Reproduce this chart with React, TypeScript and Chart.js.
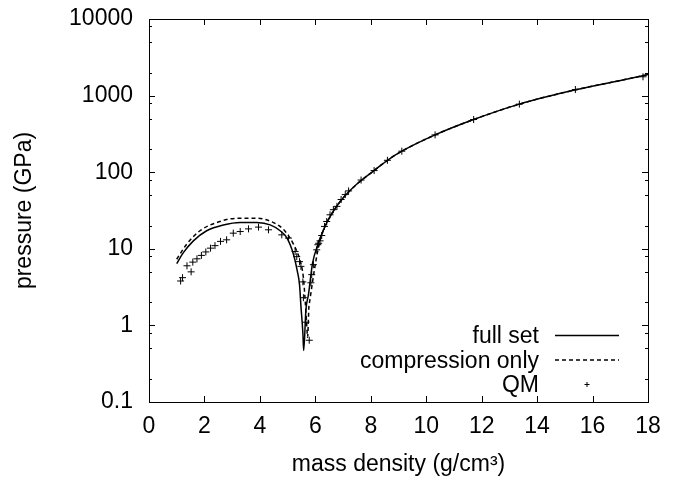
import React, { useEffect, useRef } from "react";
import { Chart, registerables } from "chart.js";

Chart.register(...registerables);

// ---- data ----
const fullSetX = [1.0, 1.24, 1.6, 2.08, 2.68, 3.29, 3.89, 4.37, 4.73, 4.97, 5.21, 5.35, 5.43, 5.48, 5.55, 5.58, 5.66, 5.75, 5.9, 6.1, 6.3, 6.6, 7.0, 7.5, 8.12, 8.6, 9.12, 10.32, 11.71, 13.36, 15.39, 17.3, 18.0];
const fullSetY = [6.4, 8.9, 12.7, 17.2, 20.5, 22.1, 22.0, 20.5, 17.2, 14.0, 8.5, 5.1, 3.4, 1.8, 0.8, 0.47, 1.6, 2.5, 6.5, 11.5, 18, 29, 46, 70, 105, 143, 188, 307, 487, 774, 1190, 1660, 1880];

const compX = [1.0, 1.36, 1.84, 2.44, 3.16, 3.89, 4.49, 4.91, 5.21, 5.45, 5.57, 5.63, 5.69, 5.72, 5.77, 5.79, 5.99, 6.15, 6.35, 6.6, 7.0, 7.5, 8.12, 8.6, 9.12, 10.32, 11.71, 13.36, 15.39, 17.3, 18.0];
const compY = [7.3, 11.5, 17.2, 22.0, 25.0, 25.0, 22.0, 17.0, 11.5, 7.0, 4.2, 2.2, 1.0, 0.7, 1.8, 2.0, 6.0, 12.0, 19.5, 29, 46, 70, 105, 143, 188, 307, 487, 774, 1190, 1660, 1880];

const qmX = [1.14, 1.21, 1.37, 1.52, 1.58, 1.73, 1.89, 2.05, 2.22, 2.38, 2.58, 2.8, 3.04, 3.29, 3.59, 3.95, 4.31, 4.79, 5.03, 5.27, 5.33, 5.43, 5.48, 5.55, 5.57, 5.66, 5.78, 5.84, 5.87, 5.93, 6.05, 6.09, 6.12, 6.17, 6.23, 6.33, 6.41, 6.53, 6.65, 6.78, 6.93, 7.08, 7.2, 7.65, 8.12, 8.6, 9.12, 10.32, 11.71, 13.36, 15.38, 17.82];
const qmY = [3.8, 4.2, 6.0, 5.0, 6.7, 7.4, 8.2, 9.1, 10.2, 11.0, 12.5, 13.1, 16.0, 16.8, 18.2, 19.2, 17.7, 15.2, 13.8, 9.2, 7.9, 6.8, 5.9, 3.7, 2.3, 1.1, 0.64, 3.6, 4.6, 6.2, 9.7, 11.3, 11.8, 12.7, 14.9, 19.6, 22.7, 27.8, 32.4, 35.8, 44, 51, 57, 79, 105, 143, 188, 307, 487, 774, 1200, 1760];

const xTicks = [0, 2, 4, 6, 8, 10, 12, 14, 16, 18];
const yMajorTicks = [0.1, 1, 10, 100, 1000, 10000];
const yMinorMultipliers = [2, 5, 8];

const seriesLabels = ["full set", "compression only", "QM"];
const xTitle = "mass density (g/cm³)";
const yTitle = "pressure (GPa)";

const FONT = "'Liberation Sans', Arial, Helvetica, sans-serif";
const FS = 23;

const toPoints = (xs: number[], ys: number[]) => xs.map((x, i) => ({ x, y: ys[i] }));

const framePlugin = {
  id: "gnuplotFrame",
  afterDatasetsDraw(chart: any) {
    const { ctx, chartArea } = chart;
    const { left, right, top, bottom } = chartArea;
    const xs = chart.scales.x;
    const ys = chart.scales.y;
    ctx.save();
    ctx.strokeStyle = "#000";
    ctx.lineWidth = 1;
    ctx.setLineDash([]);
    ctx.beginPath();
    const tick = (py: number, len: number) => {
      const y = Math.round(py) + 0.5;
      ctx.moveTo(left, y);
      ctx.lineTo(left + len, y);
      ctx.moveTo(right, y);
      ctx.lineTo(right - len, y);
    };
    yMajorTicks.forEach((v, i) => {
      tick(ys.getPixelForValue(v), 6);
      if (i < yMajorTicks.length - 1) {
        yMinorMultipliers.forEach((m) => tick(ys.getPixelForValue(v * m), 3));
      }
    });
    xTicks.forEach((v) => {
      const x = Math.round(xs.getPixelForValue(v)) + 0.5;
      ctx.moveTo(x, bottom);
      ctx.lineTo(x, bottom - 6);
      ctx.moveTo(x, top);
      ctx.lineTo(x, top + 6);
    });
    ctx.stroke();
    ctx.strokeRect(Math.round(left) + 0.5, Math.round(top) + 0.5, Math.round(right - left), Math.round(bottom - top));

    // legend (gnuplot style: text right-aligned, sample to the right)
    ctx.font = `${FS}px ${FONT}`;
    ctx.fillStyle = "#000";
    ctx.textAlign = "right";
    ctx.textBaseline = "alphabetic";
    const textRight = right - 109;
    const sx0 = right - 93;
    const sx1 = right - 29;
    const rows = [bottom - 59, bottom - 34.5, bottom - 10];
    chart.data.datasets.forEach((ds: any, i: number) => {
      const base = rows[i];
      ctx.fillText(ds.label, textRight, base);
      const cy = base - 7.5;
      ctx.strokeStyle = ds.borderColor;
      if (ds.showLine !== false) {
        ctx.lineWidth = ds.borderWidth;
        ctx.setLineDash(ds.borderDash || []);
        ctx.beginPath();
        ctx.moveTo(sx0, cy);
        ctx.lineTo(sx1, cy);
        ctx.stroke();
      } else {
        ctx.lineWidth = 1;
        ctx.setLineDash([]);
        const cx = (sx0 + sx1) / 2;
        const r = 2.5;
        ctx.beginPath();
        ctx.moveTo(cx - r, cy);
        ctx.lineTo(cx + r, cy);
        ctx.moveTo(cx, cy - r);
        ctx.lineTo(cx, cy + r);
        ctx.stroke();
      }
    });
    ctx.restore();
  },
};

export default function App() {
  const ref = useRef<HTMLCanvasElement | null>(null);
  useEffect(() => {
    if (!ref.current) return;
    const chart = new Chart(ref.current, {
      type: "scatter",
      data: {
        datasets: [
          {
            label: seriesLabels[0],
            data: toPoints(fullSetX, fullSetY),
            showLine: true,
            borderColor: "#000",
            backgroundColor: "#000",
            borderWidth: 1.5,
            pointRadius: 0,
            cubicInterpolationMode: "monotone",
          },
          {
            label: seriesLabels[1],
            data: toPoints(compX, compY),
            showLine: true,
            borderColor: "#000",
            backgroundColor: "#000",
            borderWidth: 1.5,
            borderDash: [4, 3],
            pointRadius: 0,
            cubicInterpolationMode: "monotone",
          },
          {
            label: seriesLabels[2],
            data: toPoints(qmX, qmY),
            showLine: false,
            borderColor: "#000",
            backgroundColor: "#000",
            borderWidth: 1,
            pointStyle: "cross",
            pointRadius: 3.5,
          },
        ],
      },
      options: {
        animation: false,
        responsive: false,
        devicePixelRatio: 1,
        events: [],
        layout: { padding: { top: 19, right: 32, left: 0, bottom: 0 } },
        plugins: {
          legend: { display: false },
          tooltip: { enabled: false },
        },
        scales: {
          x: {
            type: "linear",
            min: 0,
            max: 18,
            afterBuildTicks: (scale: any) => {
              scale.ticks = xTicks.map((v) => ({ value: v }));
            },
            afterFit: (scale: any) => {
              scale.height = 76;
              scale.paddingLeft = 0;
              scale.paddingRight = 0;
            },
            grid: { display: false, drawTicks: false },
            border: { display: false },
            ticks: {
              color: "#000",
              padding: 10.5,
              maxRotation: 0,
              autoSkip: false,
              font: { family: FONT, size: FS },
              callback: (v: any) => String(v),
            },
            title: {
              display: true,
              text: xTitle,
              color: "#000",
              font: { family: FONT, size: FS },
              padding: { top: 0, bottom: 0 },
            },
          },
          y: {
            type: "logarithmic",
            min: 0.1,
            max: 10000,
            afterBuildTicks: (scale: any) => {
              scale.ticks = yMajorTicks.map((v) => ({ value: v }));
            },
            afterFit: (scale: any) => {
              scale.width = 149;
              scale.paddingTop = 0;
              scale.paddingBottom = 0;
            },
            grid: { display: false, drawTicks: false },
            border: { display: false },
            ticks: {
              color: "#000",
              padding: 16,
              autoSkip: false,
              font: { family: FONT, size: FS },
              callback: (v: any) => String(v),
            },
            title: {
              display: true,
              text: yTitle,
              color: "#000",
              font: { family: FONT, size: FS },
              padding: { top: 11, bottom: 0 },
            },
          },
        },
      },
      plugins: [framePlugin],
    });
    return () => chart.destroy();
  }, []);
  return (
    <div style={{ position: "absolute", left: 0, top: 0, width: 680, height: 478, background: "#fff" }}>
      <canvas ref={ref} width={680} height={478} style={{ width: 680, height: 478, display: "block" }} />
    </div>
  );
}
